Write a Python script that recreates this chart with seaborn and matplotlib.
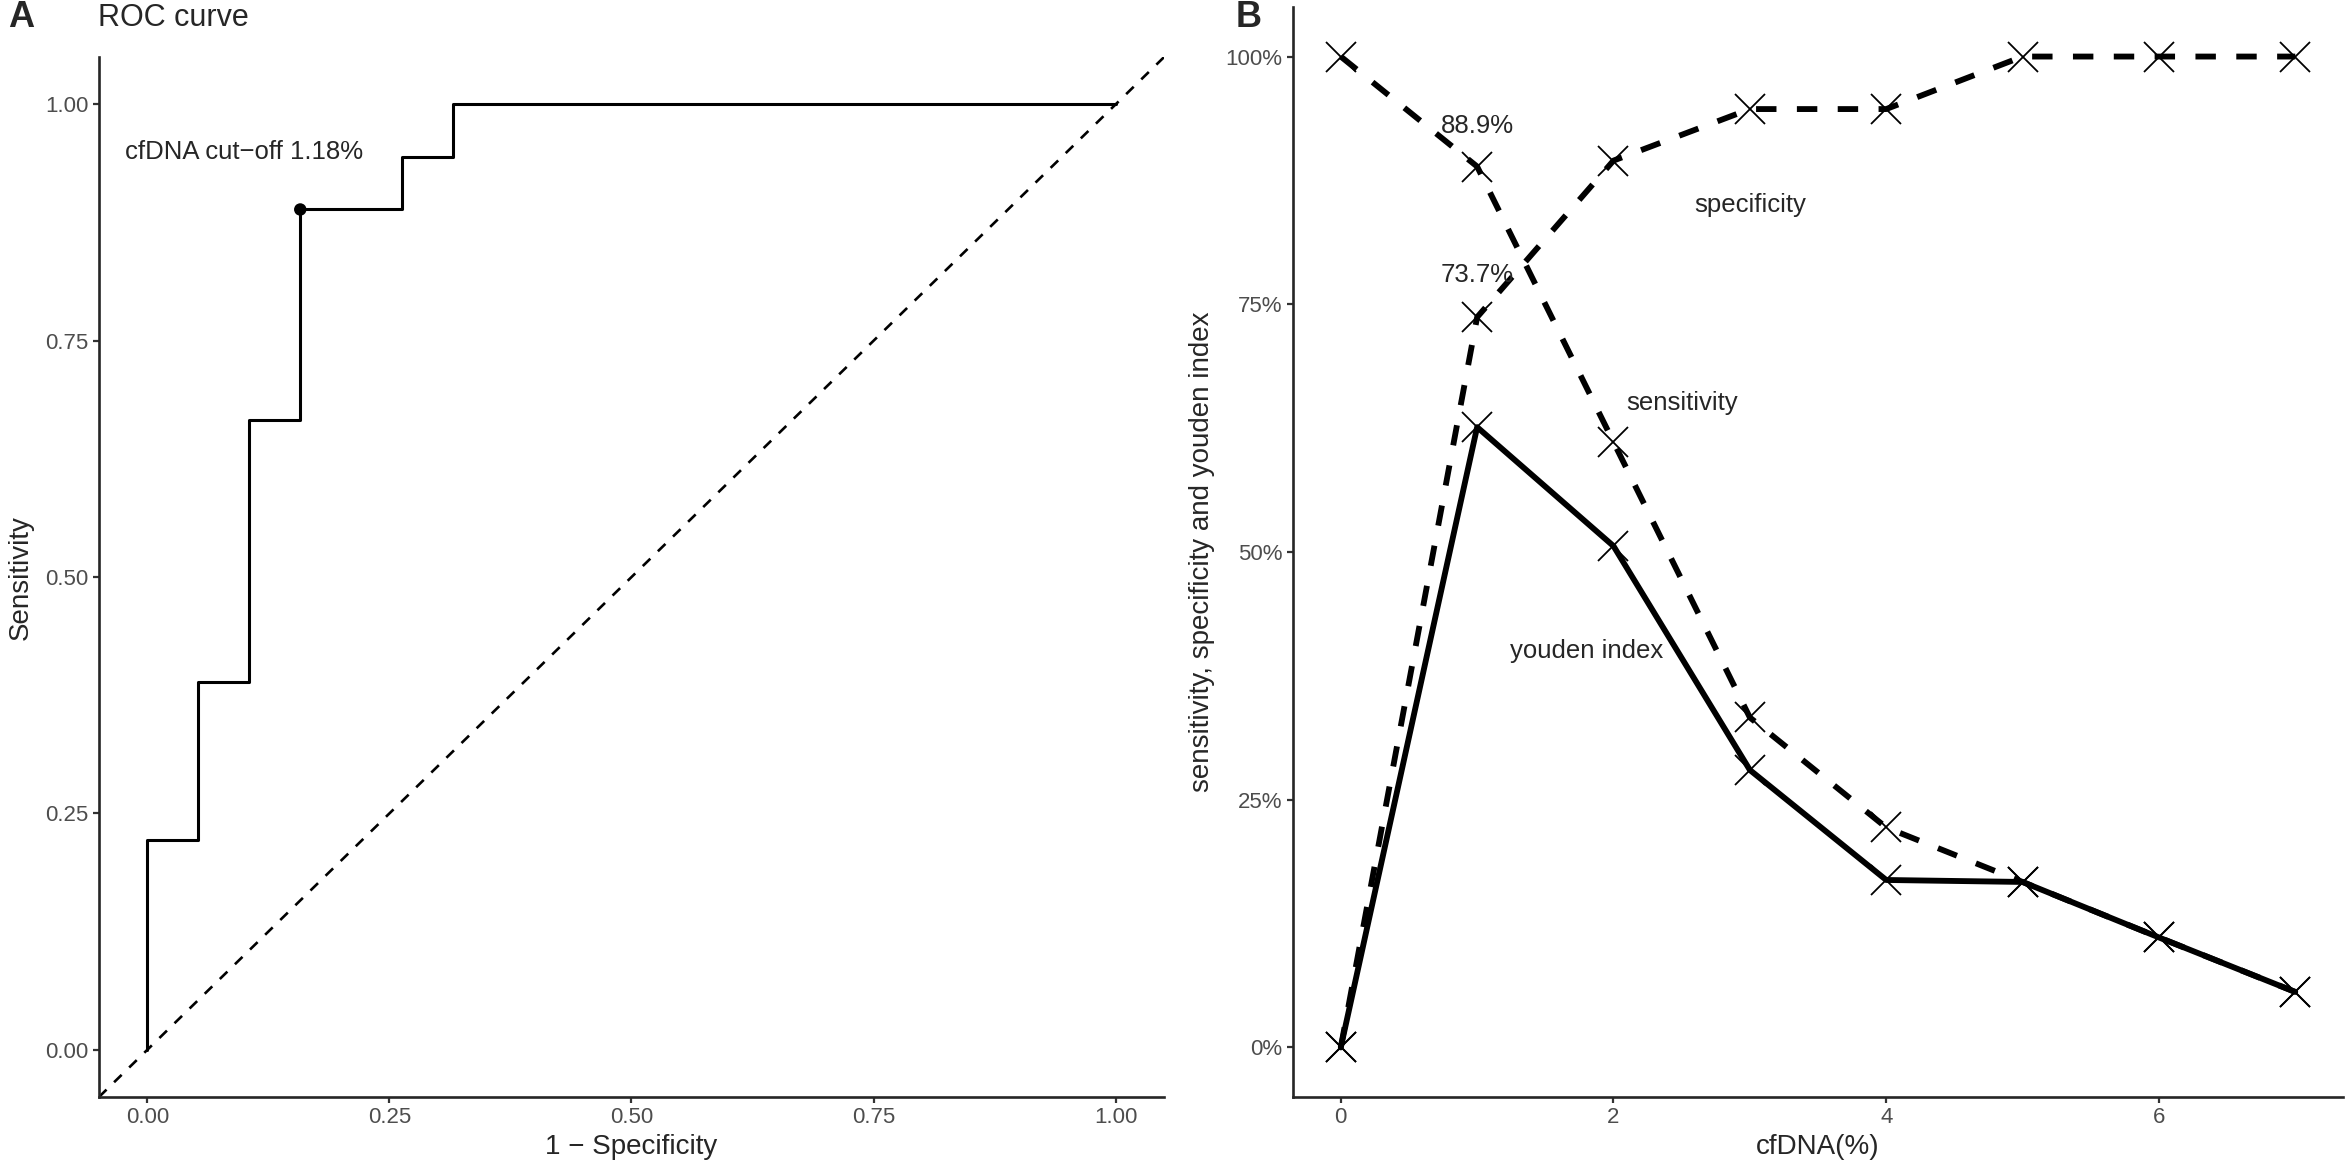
import numpy as np
import pandas as pd
import matplotlib
matplotlib.use("Agg")
import matplotlib.pyplot as plt
import seaborn as sns
from matplotlib.ticker import PercentFormatter

# ROC curve (panel A)
roc_fpr = [0, 0, 1/19, 2/19, 3/19, 5/19, 6/19, 1.0]
roc_tpr = [0, 4/18, 7/18, 12/18, 16/18, 17/18, 1.0, 1.0]
cutoff_fpr = 3/19
cutoff_tpr = 16/18

# cut-off curves (panel B)
cfdna = [0, 1, 2, 3, 4, 5, 6, 7]
sensitivity = [1.0, 0.889, 0.611, 0.333, 0.222, 0.167, 0.111, 0.056]
specificity = [0.0, 0.737, 0.895, 0.947, 0.947, 1.0, 1.0, 1.0]
youden = [0.0, 0.626, 0.506, 0.280, 0.169, 0.167, 0.111, 0.056]


def main():
    sns.set_theme(style="ticks")
    plt.rcParams['font.family'] = ['Liberation Sans', 'DejaVu Sans']
    plt.rcParams['axes.linewidth'] = 1.9
    plt.rcParams['xtick.major.width'] = 1.6
    plt.rcParams['ytick.major.width'] = 1.6
    plt.rcParams['xtick.major.size'] = 4
    plt.rcParams['ytick.major.size'] = 4
    plt.rcParams['xtick.color'] = '#333333'
    plt.rcParams['ytick.color'] = '#333333'
    plt.rcParams['xtick.labelcolor'] = '#4D4D4D'
    plt.rcParams['ytick.labelcolor'] = '#4D4D4D'

    fig = plt.figure(figsize=(23.51, 11.67), dpi=100)
    ax1 = fig.add_axes([0.0421, 0.060, 0.4530, 0.891])
    ax2 = fig.add_axes([0.550, 0.060, 0.4466, 0.934])

    # ---- panel A
    ax1.axline((0, 0), slope=1, color='black', lw=1.9, ls=(0, (4, 4)))
    sns.lineplot(x=roc_fpr, y=roc_tpr, sort=False, estimator=None,
                 drawstyle='steps-post', color='black', lw=2.2, ax=ax1)
    sns.scatterplot(x=[cutoff_fpr], y=[cutoff_tpr], color='black', s=80,
                    edgecolor='none', ax=ax1, zorder=5)
    ax1.text(0.1, 0.95, 'cfDNA cut\u2212off 1.18%', ha='center', va='center', fontsize=18.5)
    ax1.set_xlim(-0.05, 1.05)
    ax1.set_ylim(-0.05, 1.05)
    ax1.set_xticks([0, 0.25, 0.5, 0.75, 1.0])
    ax1.set_yticks([0, 0.25, 0.5, 0.75, 1.0])
    ax1.set_xticklabels(['0.00', '0.25', '0.50', '0.75', '1.00'])
    ax1.set_yticklabels(['0.00', '0.25', '0.50', '0.75', '1.00'])
    ax1.tick_params(labelsize=16)
    ax1.set_xlabel('1 \u2212 Specificity', fontsize=20, labelpad=4)
    ax1.set_ylabel('Sensitivity', fontsize=20, labelpad=8)
    sns.despine(ax=ax1)

    # ---- panel B
    mk = dict(marker='x', markersize=22, markeredgewidth=1.3,
              markeredgecolor='black', color='black')
    sns.lineplot(x=cfdna, y=youden, lw=4.2, ax=ax2, **mk)
    sns.lineplot(x=cfdna, y=sensitivity, lw=4.2, ls=(0, (3.5, 3.5)), ax=ax2, **mk)
    sns.lineplot(x=cfdna, y=specificity, lw=4.2, ls=(0, (3.5, 3.5)), ax=ax2, **mk)
    ax2.text(1, 0.93, '88.9%', ha='center', va='center', fontsize=18.5)
    ax2.text(1, 0.78, '73.7%', ha='center', va='center', fontsize=18.5)
    ax2.text(3, 0.85, 'specificity', ha='center', va='center', fontsize=18.5)
    ax2.text(2.5, 0.65, 'sensitivity', ha='center', va='center', fontsize=18.5)
    ax2.text(1.8, 0.40, 'youden index', ha='center', va='center', fontsize=18.5)
    ax2.set_xlim(-0.35, 7.35)
    ax2.set_ylim(-0.05, 1.05)
    ax2.set_xticks([0, 2, 4, 6])
    ax2.set_yticks([0, 0.25, 0.5, 0.75, 1.0])
    ax2.yaxis.set_major_formatter(PercentFormatter(xmax=1, decimals=0))
    ax2.tick_params(labelsize=16)
    ax2.set_xlabel('cfDNA(%)', fontsize=20, labelpad=4)
    ax2.set_ylabel('sensitivity, specificity and youden index', fontsize=20, labelpad=8)
    sns.despine(ax=ax2)

    # titles and panel tags
    fig.text(0.0417, 0.985, 'ROC curve', ha='left', va='center', fontsize=22)
    fig.text(0.0035, 0.985, 'A', ha='left', va='center', fontsize=26, fontweight='bold')
    fig.text(0.5255, 0.985, 'B', ha='left', va='center', fontsize=26, fontweight='bold')

    fig.savefig('out.png', dpi=100)


main()
